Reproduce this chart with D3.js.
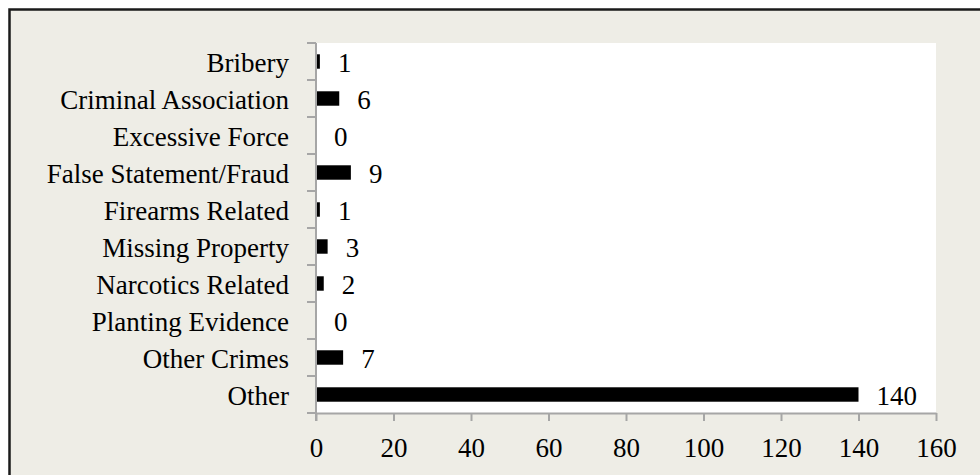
<!DOCTYPE html>
<html>
<head>
<meta charset="utf-8">
<script src="https://cdn.jsdelivr.net/npm/d3@7"></script>
<style>
  html, body { margin: 0; padding: 0; background: #ffffff; }
  svg { display: block; }
  text { font-family: "Liberation Serif", "Times New Roman", serif; fill: #000; }
</style>
</head>
<body>
<svg id="chart" width="980" height="475"></svg>
<script>
// Misconduct categories, top to bottom, and their counts
const categories = [
  "Bribery",
  "Criminal Association",
  "Excessive Force",
  "False Statement/Fraud",
  "Firearms Related",
  "Missing Property",
  "Narcotics Related",
  "Planting Evidence",
  "Other Crimes ",
  "Other"
];
const counts = [1, 6, 0, 9, 1, 3, 2, 0, 7, 140];
const xTicks = [0, 20, 40, 60, 80, 100, 120, 140, 160];

const svg = d3.select("#chart");
const W = 980, H = 475;
const plot = { left: 316, right: 936, top: 43, bottom: 413 };
const fontSize = 27;
const axisColor = "#a6a6a6";

// chart background with a dark frame
svg.append("rect")
  .attr("x", 9.5).attr("y", 9.5)
  .attr("width", W + 20).attr("height", H + 20)
  .attr("fill", "#eeede6")
  .attr("stroke", "#1a1a1a")
  .attr("stroke-width", 2.5);

// plot area
svg.append("rect")
  .attr("x", plot.left).attr("y", plot.top)
  .attr("width", plot.right - plot.left)
  .attr("height", plot.bottom - plot.top)
  .attr("fill", "#ffffff");

const x = d3.scaleLinear().domain([0, 160]).range([plot.left, plot.right]);
const y = d3.scaleBand().domain(categories).range([plot.top, plot.bottom]).paddingInner(0).paddingOuter(0);
const barH = y.bandwidth() * 0.39;

// bars
svg.append("g").selectAll("rect")
  .data(categories)
  .join("rect")
  .attr("x", x(0))
  .attr("y", d => y(d) + (y.bandwidth() - barH) / 2)
  .attr("width", (d, i) => x(counts[i]) - x(0))
  .attr("height", barH)
  .attr("fill", "#000");

// value labels
svg.append("g").selectAll("text")
  .data(categories)
  .join("text")
  .attr("x", (d, i) => x(counts[i]) + 18)
  .attr("y", d => y(d) + y.bandwidth() / 2)
  .attr("dy", "0.38em")
  .style("font-size", fontSize + "px")
  .text((d, i) => counts[i]);

// x axis
const xAxis = svg.append("g")
  .attr("transform", `translate(0,${plot.bottom})`)
  .call(d3.axisBottom(x).tickValues(xTicks).tickSize(8).tickPadding(17).tickSizeOuter(0));
xAxis.select(".domain").attr("stroke", axisColor).attr("stroke-width", 2);
xAxis.selectAll(".tick line").attr("stroke", axisColor).attr("stroke-width", 2);
xAxis.selectAll(".tick text")
  .style("font-size", fontSize + "px")
  .style("font-family", '"Liberation Serif", serif')
  .attr("fill", "#000");

// y axis: category labels centred in each band, ticks on band boundaries
const yAxis = svg.append("g")
  .attr("transform", `translate(${plot.left},0)`)
  .call(d3.axisLeft(y).tickSize(0).tickPadding(27));
yAxis.select(".domain").remove();
yAxis.selectAll(".tick text")
  .style("font-size", fontSize + "px")
  .style("font-family", '"Liberation Serif", serif')
  .attr("fill", "#000")
  .attr("dy", "0.38em");

const bounds = categories.map(c => y(c)).concat([y(categories[categories.length - 1]) + y.bandwidth()]);
svg.append("g").selectAll("line")
  .data(bounds)
  .join("line")
  .attr("x1", plot.left - 9).attr("x2", plot.left)
  .attr("y1", d => d).attr("y2", d => d)
  .attr("stroke", axisColor).attr("stroke-width", 2);
svg.append("line")
  .attr("x1", plot.left).attr("x2", plot.left)
  .attr("y1", plot.top).attr("y2", plot.bottom + 8)
  .attr("stroke", axisColor).attr("stroke-width", 2);
</script>
</body>
</html>
